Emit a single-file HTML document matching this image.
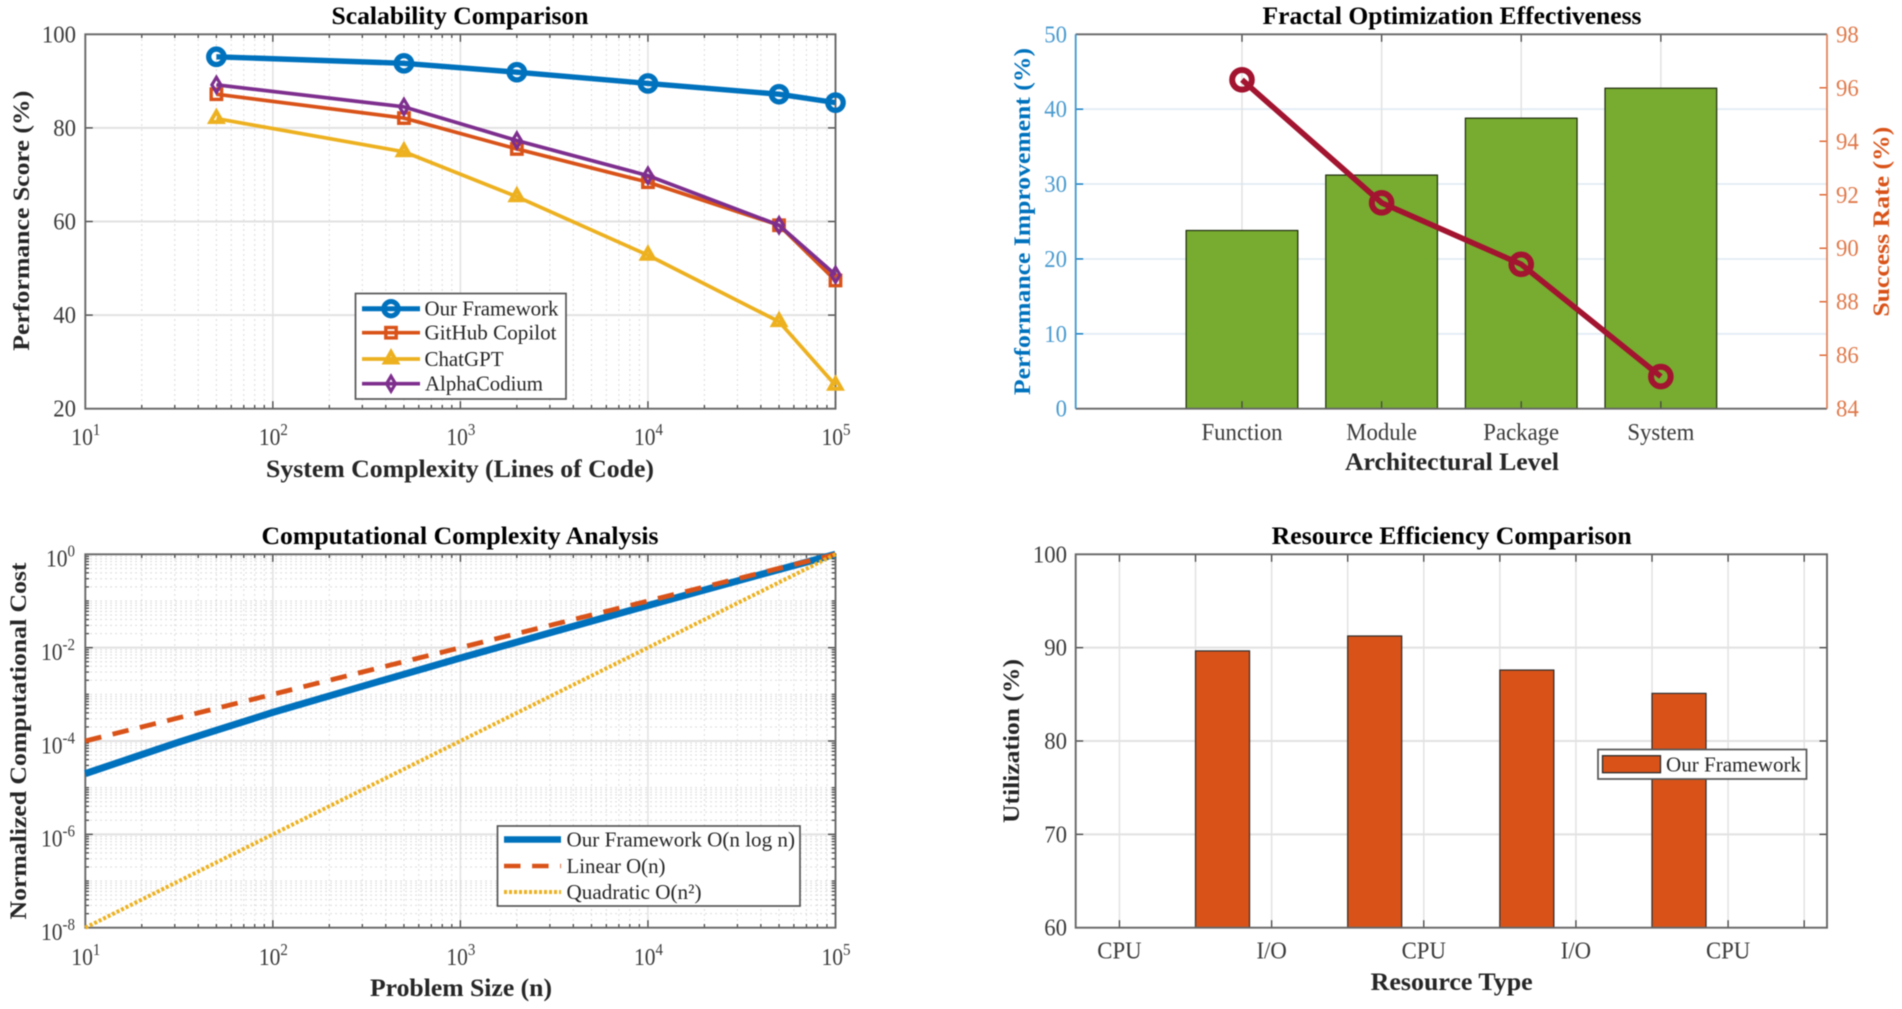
<!DOCTYPE html>
<html lang="en">
<head>
<meta charset="utf-8">
<title>Framework Evaluation Charts</title>
<style>
html,body{margin:0;padding:0;background:#fff;width:1902px;height:1009px;overflow:hidden}
svg{display:block;filter:blur(0.6px)}
text{font-family:"Liberation Serif","Times New Roman",serif;fill:#262626}
.title{font-size:25px;font-weight:bold;fill:#000;text-anchor:middle}
.label{font-size:25px;font-weight:bold;text-anchor:middle}
.vlabel{font-size:23.5px;font-weight:bold;text-anchor:middle}
.tick{font-size:24.5px;fill:#3a3a3a}
.leg{font-size:21px}
</style>
</head>
<body>
<svg id="figure" xmlns="http://www.w3.org/2000/svg" width="1902" height="1009" viewBox="0 0 1902 1009">
  <rect width="1902" height="1009" fill="#fff"/>

  <g>
    <g id="p1-grid"></g>
    <g id="p1-axes"></g>
    <g id="p1-series"></g>
    <text class="title" x="460" y="24" textLength="257" lengthAdjust="spacingAndGlyphs">Scalability Comparison</text>
    <text class="label" x="460" y="477" textLength="388" lengthAdjust="spacingAndGlyphs">System Complexity (Lines of Code)</text>
    <text class="vlabel" transform="translate(29 220.7) rotate(-90)" textLength="260" lengthAdjust="spacingAndGlyphs">Performance Score (%)</text>
    <g>
      <rect x="355.5" y="293.5" width="210.5" height="105.5" fill="#fff" stroke="#555" stroke-width="1.7"/>
      <g>
        <line x1="362" x2="420" y1="308.7" y2="308.7" stroke="#0072BD" stroke-width="5"/>
        <circle cx="391" cy="308.7" r="7.2" fill="none" stroke="#0072BD" stroke-width="5"/>
        <text class="leg" x="424.5" y="315.7" textLength="134" lengthAdjust="spacingAndGlyphs">Our Framework</text>
      </g>
      <g>
        <line x1="362" x2="420" y1="332.7" y2="332.7" stroke="#D95319" stroke-width="3.7"/>
        <rect x="385.8" y="327.5" width="10.4" height="10.4" fill="none" stroke="#D95319" stroke-width="3.4"/>
        <text class="leg" x="424.5" y="339.7" textLength="132" lengthAdjust="spacingAndGlyphs">GitHub Copilot</text>
      </g>
      <g>
        <line x1="362" x2="420" y1="359" y2="359" stroke="#EDB120" stroke-width="3.7"/>
        <polygon points="391,352 397,362.5 385,362.5" fill="none" stroke="#EDB120" stroke-width="4"/>
        <text class="leg" x="424.5" y="366" textLength="79" lengthAdjust="spacingAndGlyphs">ChatGPT</text>
      </g>
      <g>
        <line x1="362" x2="420" y1="383.7" y2="383.7" stroke="#7E2F8E" stroke-width="3.7"/>
        <polygon points="391,376.2 395.5,383.7 391,391.2 386.5,383.7" fill="none" stroke="#7E2F8E" stroke-width="3.2"/>
        <text class="leg" x="425" y="390.7" textLength="118" lengthAdjust="spacingAndGlyphs">AlphaCodium</text>
      </g>
    </g>
  </g>

  <g>
    <g id="p2-grid"></g>
    <g id="p2-bars"></g>
    <g id="p2-axes"></g>
    <g id="p2-series"></g>
    <text class="title" x="1452" y="24" textLength="379" lengthAdjust="spacingAndGlyphs">Fractal Optimization Effectiveness</text>
    <text class="label" x="1452" y="470" textLength="214" lengthAdjust="spacingAndGlyphs">Architectural Level</text>
    <text class="vlabel" style="fill:#0072BD" transform="translate(1030 221.5) rotate(-90)" textLength="347" lengthAdjust="spacingAndGlyphs">Performance Improvement (%)</text>
    <text class="vlabel" style="fill:#D95319" transform="translate(1889 221.7) rotate(-90)" textLength="190" lengthAdjust="spacingAndGlyphs">Success Rate (%)</text>
  </g>

  <g>
    <g id="p3-grid"></g>
    <g id="p3-axes"></g>
    <g id="p3-series"></g>
    <text class="title" x="460" y="544" textLength="397" lengthAdjust="spacingAndGlyphs">Computational Complexity Analysis</text>
    <text class="label" x="461" y="996" textLength="182" lengthAdjust="spacingAndGlyphs">Problem Size (n)</text>
    <text class="vlabel" transform="translate(26 741) rotate(-90)" textLength="357" lengthAdjust="spacingAndGlyphs">Normalized Computational Cost</text>
    <g>
      <rect x="497.5" y="826" width="302.5" height="80" fill="#fff" stroke="#555" stroke-width="1.7"/>
      <g>
        <line x1="504" x2="561" y1="839.5" y2="839.5" stroke="#0072BD" stroke-width="6.5"/>
        <text class="leg" x="566.5" y="846.5" textLength="228.5" lengthAdjust="spacingAndGlyphs">Our Framework O(n log n)</text>
      </g>
      <g>
        <line x1="504" x2="561" y1="866" y2="866" stroke="#D95319" stroke-width="4.6" stroke-dasharray="16.5 11.6"/>
        <text class="leg" x="566.5" y="873" textLength="99" lengthAdjust="spacingAndGlyphs">Linear O(n)</text>
      </g>
      <g>
        <line x1="504" x2="561" y1="892" y2="892" stroke="#EDB120" stroke-width="4" stroke-dasharray="3 2"/>
        <text class="leg" x="566.5" y="899" textLength="135" lengthAdjust="spacingAndGlyphs">Quadratic O(n²)</text>
      </g>
    </g>
  </g>

  <g>
    <g id="p4-grid"></g>
    <g id="p4-bars"></g>
    <g id="p4-axes"></g>
    <text class="title" x="1451.7" y="544" textLength="360" lengthAdjust="spacingAndGlyphs">Resource Efficiency Comparison</text>
    <text class="label" x="1451.7" y="990" textLength="162" lengthAdjust="spacingAndGlyphs">Resource Type</text>
    <text class="vlabel" transform="translate(1019 741) rotate(-90)" textLength="164" lengthAdjust="spacingAndGlyphs">Utilization (%)</text>
    <g>
      <rect x="1598" y="749.5" width="208.5" height="29.5" fill="#fff" stroke="#555" stroke-width="1.7"/>
      <g>
        <rect x="1602.5" y="755.7" width="58" height="17" fill="#D95319" stroke="#2b2b2b" stroke-width="1.3"/>
        <text class="leg" x="1666" y="771.5" textLength="135" lengthAdjust="spacingAndGlyphs">Our Framework</text>
      </g>
    </g>
  </g>
</svg>

<script>
// ---- Scalability Comparison data ----
const scaleLinesOfCode = [50, 500, 2000, 10000, 50000, 100000];
const scaleOurFramework = [95.2, 93.8, 91.9, 89.5, 87.2, 85.4];
const scaleCopilot = [87.2, 82.1, 75.5, 68.4, 59.2, 47.4];
const scaleChatGPT = [82.0, 74.9, 65.3, 52.8, 38.6, 25.0];
const scaleAlphaCodium = [89.2, 84.5, 77.3, 69.8, 59.2, 48.6];
const scaleYTicks = [20, 40, 60, 80, 100];
const logXExponents = [1, 2, 3, 4, 5];

// ---- Fractal Optimization data ----
const fractalLevels = ['Function', 'Module', 'Package', 'System'];
const fractalImprovement = [23.8, 31.2, 38.8, 42.8];
const fractalSuccess = [96.3, 91.7, 89.4, 85.2];
const fractalLeftTicks = [0, 10, 20, 30, 40, 50];
const fractalRightTicks = [84, 86, 88, 90, 92, 94, 96, 98];

// ---- Computational Complexity data ----
const complexitySizes = [10, 31.6, 100, 316, 1000, 3162, 10000, 31623, 100000];
const complexityOurs = [2e-5, 9.5e-5, 4.1e-4, 1.58e-3, 6e-3, 2.2e-2, 8e-2, 0.285, 1];
const complexityLinear = [1e-4, 3.16e-4, 1e-3, 3.16e-3, 1e-2, 3.16e-2, 1e-1, 0.316, 1];
const complexityQuadratic = [1e-8, 1e-7, 1e-6, 1e-5, 1e-4, 1e-3, 1e-2, 1e-1, 1];
const complexityYExponents = [-8, -6, -4, -2, 0];

// ---- Resource Efficiency data ----
const resourceLabels = ['CPU', 'I/O', 'CPU', 'I/O', 'CPU'];
const resourceLabelSlots = [0, 2, 4, 6, 8];
const resourceBarSlots = [1, 3, 5, 7];
const resourceUtilization = [89.65, 91.25, 87.6, 85.1];
const resourceYTicks = [60, 70, 80, 90, 100];
const resourceTickSlots = [0, 1, 2, 3, 4, 5, 6, 7, 8, 9];

// ---- Helpers ----
const NS = 'http://www.w3.org/2000/svg';
function mk(tag, attrs, parent) {
  const e = document.createElementNS(NS, tag);
  for (const k in attrs) e.setAttribute(k, attrs[k]);
  parent.appendChild(e);
  return e;
}
function linScale(d0, d1, r0, r1) {
  return v => r0 + (v - d0) / (d1 - d0) * (r1 - r0);
}
function logScale(d0, d1, r0, r1) {
  return v => r0 + (Math.log10(v) - Math.log10(d0)) / (Math.log10(d1) - Math.log10(d0)) * (r1 - r0);
}
const $ = id => document.getElementById(id);
const AXIS = '#666', TICKC = '#444';
const MAJOR = '#e2e2e2', MINOR = '#d2d2d2';
const L = 85.3, R = 835.5, T1 = 34.3, B1 = 408.7, T2 = 554.3, B2 = 927.7, L2 = 1075.7, R2 = 1827;

function gridV(parent, x, y0, y1, minor, color) {
  const ln = mk('line', {x1: x, x2: x, y1: y0, y2: y1, stroke: color || (minor ? MINOR : MAJOR), 'stroke-width': minor ? 1 : 1.5}, parent);
  if (minor) ln.setAttribute('stroke-dasharray', '1.5 3.5');
  
  
}
function gridH(parent, y, x0, x1, minor, color) {
  const ln = mk('line', {x1: x0, x2: x1, y1: y, y2: y, stroke: color || (minor ? MINOR : MAJOR), 'stroke-width': minor ? 1 : 2}, parent);
  if (minor) ln.setAttribute('stroke-dasharray', '1.5 3.5');
  
  
}
function tickMark(parent, x1, y1, x2, y2, color) {
  const ln = mk('line', {x1, y1, x2, y2, stroke: color || TICKC, 'stroke-width': 1.3}, parent);
  
  
}
function tickLabel(parent, txt, x, y, anchor, color) {
  const t = mk('text', {transform: `translate(${x} ${y}) scale(0.93 1)`, 'text-anchor': anchor, class: 'tick'}, parent);
  if (color) t.style.fill = color;
  t.textContent = txt;
  
  
}
function powerLabel(parent, exp, x, y, anchor) {
  const t = mk('text', {transform: `translate(${x} ${y}) scale(0.88 1)`, 'text-anchor': anchor, class: 'tick'}, parent);
  const a = mk('tspan', {}, t);
  a.textContent = '10';
  const b = mk('tspan', {dy: -10, 'font-size': 17}, t);
  b.textContent = String(exp);
  
  
}
function frame(parent, x0, y0, x1, y1) {
  const r = mk('rect', {x: x0, y: y0, width: x1 - x0, height: y1 - y0, fill: 'none', stroke: AXIS, 'stroke-width': 1.9}, parent);
  
  
}
function logXAxis(grid, axes, sx, y0, y1, labelY) {
  logXExponents.forEach((e, i) => {
    const v = Math.pow(10, e), x = sx(v);
    if (i > 0 && i < logXExponents.length - 1) gridV(grid, x, y0, y1, false);
    tickMark(axes, x, y1, x, y1 - 7.5);
    tickMark(axes, x, y0, x, y0 + 7.5);
    powerLabel(axes, e, x + 0.5, labelY, 'middle');
    if (i < logXExponents.length - 1) {
      for (let m = 2; m <= 9; m++) {
        const xm = sx(m * v);
        gridV(grid, xm, y0, y1, true);
        tickMark(axes, xm, y1, xm, y1 - 3.7);
        tickMark(axes, xm, y0, xm, y0 + 3.7);
      }
    }
  });
}
function drawPolyline(parent, pts, color, width, dash, name) {
  const p = mk('polyline', {points: pts.map(q => q.join(',')).join(' '), fill: 'none', stroke: color, 'stroke-width': width, 'stroke-linejoin': 'round'}, parent);
  if (dash) p.setAttribute('stroke-dasharray', dash);
  
  
}
function drawMarker(parent, type, x, y, color, name) {
  let m;
  if (type === 'circle') m = mk('circle', {cx: x, cy: y, r: 7.7, fill: 'none', stroke: color, 'stroke-width': 5.3}, parent);
  if (type === 'bigcircle') m = mk('circle', {cx: x, cy: y, r: 9.8, fill: 'none', stroke: color, 'stroke-width': 6}, parent);
  if (type === 'square') m = mk('rect', {x: x - 5.2, y: y - 5.2, width: 10.4, height: 10.4, fill: 'none', stroke: color, 'stroke-width': 3.4}, parent);
  if (type === 'triangle') m = mk('polygon', {points: `${x},${y - 7} ${x + 6},${y + 3.5} ${x - 6},${y + 3.5}`, fill: 'none', stroke: color, 'stroke-width': 4}, parent);
  if (type === 'diamond') m = mk('polygon', {points: `${x},${y - 7.5} ${x + 4.5},${y} ${x},${y + 7.5} ${x - 4.5},${y}`, fill: 'none', stroke: color, 'stroke-width': 3.2}, parent);
  
  
}

// ---- Panel 1: Scalability ----
(function () {
  const sx = logScale(10, 100000, L, R), sy = linScale(20, 100, B1, T1);
  const grid = $('p1-grid'), axes = $('p1-axes'), series = $('p1-series');
  logXAxis(grid, axes, sx, T1, B1, 445);
  scaleYTicks.forEach(v => {
    const y = sy(v);
    if (v > 20 && v < 100) gridH(grid, y, L, R, false);
    tickMark(axes, L, y, L + 7.5, y);
    tickMark(axes, R, y, R - 7.5, y);
    tickLabel(axes, v, 76, y + 8, 'end');
  });
  frame(axes, L, T1, R, B1);
  const defs = [
    [scaleChatGPT, '#EDB120', 3.7, 'triangle', 'chatgpt'],
    [scaleCopilot, '#D95319', 3.7, 'square', 'github-copilot'],
    [scaleAlphaCodium, '#7E2F8E', 3.7, 'diamond', 'alphacodium'],
    [scaleOurFramework, '#0072BD', 5.4, 'circle', 'our-framework']
  ];
  defs.forEach(d => {
    const pts = scaleLinesOfCode.map((n, i) => [sx(n), sy(d[0][i])]);
    drawPolyline(series, pts, d[1], d[2], null, d[4] + '-line');
    pts.forEach(p => drawMarker(series, d[3], p[0], p[1], d[1], d[4] + '-point'));
  });
})();

// ---- Panel 2: Fractal ----
(function () {
  const sx = linScale(-0.191, 5.19, L2, R2);
  const syL = linScale(0, 50, B1, T1), syR = linScale(84, 98, B1, T1);
  const grid = $('p2-grid'), bars = $('p2-bars'), axes = $('p2-axes'), series = $('p2-series');
  fractalLeftTicks.forEach(v => {
    const y = syL(v);
    if (v > 0 && v < 50) gridH(grid, y, L2, R2, false, '#e4eef6');
    tickMark(axes, L2, y, L2 + 7.5, y, '#0072BD');
    tickLabel(axes, v, 1067, y + 8, 'end', '#4a9bd0');
  });
  fractalRightTicks.forEach(v => {
    const y = syR(v);
    tickMark(axes, R2, y, R2 - 7.5, y, '#D95319');
    tickLabel(axes, v, 1836, y + 8, 'start', '#e0794a');
  });
  fractalLevels.forEach((name, i) => {
    const x = sx(i + 1), y = syL(fractalImprovement[i]);
    gridV(grid, x, T1, B1, false);
    const bar = mk('rect', {x: sx(i + 0.6), y, width: sx(i + 1.4) - sx(i + 0.6), height: B1 - y, fill: '#77AC30', stroke: '#1d2b0c', 'stroke-width': 1.2}, bars);
    
    
    tickMark(axes, x, B1, x, B1 - 7.5);
    tickMark(axes, x, T1, x, T1 + 7.5);
    tickLabel(axes, name, x, 440, 'middle');
  });
  const base = mk('line', {x1: L2, x2: R2, y1: B1, y2: B1, stroke: AXIS, 'stroke-width': 1.9}, axes);
  
  
  const top = mk('line', {x1: L2, x2: R2, y1: T1, y2: T1, stroke: AXIS, 'stroke-width': 1.9}, axes);
  
  
  const left = mk('line', {x1: L2, x2: L2, y1: T1, y2: B1, stroke: '#3f97cf', 'stroke-width': 1.8}, axes);
  
  
  const right = mk('line', {x1: R2, x2: R2, y1: T1, y2: B1, stroke: '#e2835a', 'stroke-width': 1.8}, axes);
  
  
  const pts = fractalSuccess.map((v, i) => [sx(i + 1), syR(v)]);
  drawPolyline(series, pts, '#A2142F', 5.6, null, 'success-rate-line');
  pts.forEach(p => drawMarker(series, 'bigcircle', p[0], p[1], '#A2142F', 'success-rate-point'));
})();

// ---- Panel 3: Complexity ----
(function () {
  const sx = logScale(10, 100000, L, R), sy = logScale(1e-8, 1, B2, T2);
  const grid = $('p3-grid'), axes = $('p3-axes'), series = $('p3-series');
  logXAxis(grid, axes, sx, T2, B2, 965);
  for (let e = -8; e < 0; e++) {
    for (let m = 2; m <= 9; m++) {
      const y = sy(m * Math.pow(10, e));
      gridH(grid, y, L, R, true);
      tickMark(axes, L, y, L + 3.7, y);
      tickMark(axes, R, y, R - 3.7, y);
    }
    if (e % 2 !== 0) {
      const y = sy(Math.pow(10, e));
      gridH(grid, y, L, R, true);
      tickMark(axes, L, y, L + 3.7, y);
      tickMark(axes, R, y, R - 3.7, y);
    }
  }
  complexityYExponents.forEach(e => {
    const y = sy(Math.pow(10, e));
    if (e > -8 && e < 0) gridH(grid, y, L, R, false);
    tickMark(axes, L, y, L + 7.5, y);
    tickMark(axes, R, y, R - 7.5, y);
    powerLabel(axes, e, 75, y + 12.3, 'end');
  });
  frame(axes, L, T2, R, B2);
  const toPts = arr => complexitySizes.map((n, i) => [sx(n), sy(arr[i])]);
  drawPolyline(series, toPts(complexityOurs), '#0072BD', 7, null, 'our-framework-line');
  drawPolyline(series, toPts(complexityLinear), '#D95319', 4.8, '16.5 11.6', 'linear-line');
  drawPolyline(series, toPts(complexityQuadratic), '#EDB120', 4, '3 2', 'quadratic-line');
})();

// ---- Panel 4: Resource ----
(function () {
  const sx = linScale(-0.575, 9.3, L2, R2), sy = linScale(60, 100, B2, T2);
  const grid = $('p4-grid'), bars = $('p4-bars'), axes = $('p4-axes');
  resourceTickSlots.forEach(s => {
    const x = sx(s);
    gridV(grid, x, T2, B2, false);
    tickMark(axes, x, B2, x, B2 - 7.5);
    tickMark(axes, x, T2, x, T2 + 7.5);
  });
  resourceYTicks.forEach(v => {
    const y = sy(v);
    if (v > 60 && v < 100) gridH(grid, y, L2, R2, false);
    tickMark(axes, L2, y, L2 + 7.5, y);
    tickMark(axes, R2, y, R2 - 7.5, y);
    tickLabel(axes, v, 1067, y + 8, 'end');
  });
  resourceUtilization.forEach((v, i) => {
    const s = resourceBarSlots[i], y = sy(v);
    const bar = mk('rect', {x: sx(s), y, width: sx(s + 0.71) - sx(s), height: B2 - y, fill: '#D95319', stroke: '#2b2b2b', 'stroke-width': 1.2}, bars);
    
    
  });
  resourceLabels.forEach((name, i) => tickLabel(axes, name, sx(resourceLabelSlots[i]), 958.5, 'middle'));
  frame(axes, L2, T2, R2, B2);
})();
</script>
</body>
</html>
